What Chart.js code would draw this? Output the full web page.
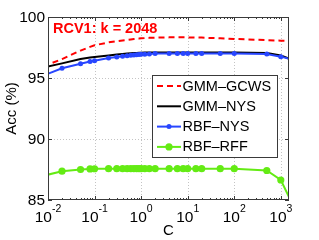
<!DOCTYPE html>
<html>
<head>
<meta charset="utf-8">
<script src="https://cdn.jsdelivr.net/npm/chart.js@4"></script>
<style>
  html, body { margin: 0; padding: 0; background: #fff; }
  #wrap { width: 319px; height: 240px; }
</style>
</head>
<body>
<div id="wrap"><canvas id="accChart" width="319" height="240"></canvas></div>
<script>
// C values (first and last lie just outside the axis range, clipped like the original)
const cValues = [0.005, 0.02, 0.05, 0.08, 0.1, 0.2, 0.3, 0.4, 0.5, 0.6, 0.7, 0.8, 0.9, 1, 1.2, 1.5, 2, 4, 6, 8, 10, 15, 20, 50, 100, 500, 1000, 2000];

const gmmGcws = [95.65, 96.55, 97.25, 97.55, 97.68, 97.92, 98.02, 98.08, 98.12, 98.16, 98.19, 98.21, 98.23, 98.25, 98.27, 98.29, 98.31, 98.33, 98.33, 98.33, 98.33, 98.32, 98.31, 98.25, 98.2, 98.1, 98.06, 98.04];
const gmmNys = [95.7, 96.2, 96.55, 96.68, 96.73, 96.85, 96.92, 96.97, 97.0, 97.02, 97.04, 97.05, 97.06, 97.07, 97.08, 97.09, 97.1, 97.1, 97.1, 97.1, 97.1, 97.1, 97.1, 97.1, 97.1, 97.05, 96.85, 96.4];
const rbfNys = [94.9, 95.8, 96.17, 96.36, 96.42, 96.64, 96.72, 96.78, 96.83, 96.86, 96.88, 96.9, 96.92, 96.94, 96.95, 96.97, 97.0, 97.0, 97.0, 97.0, 97.0, 97.0, 97.0, 97.0, 97.0, 96.97, 96.75, 96.46];
const rbfRff = [86.8, 87.36, 87.5, 87.55, 87.56, 87.57, 87.57, 87.57, 87.57, 87.57, 87.57, 87.57, 87.57, 87.57, 87.57, 87.57, 87.57, 87.57, 87.57, 87.57, 87.57, 87.57, 87.57, 87.57, 87.57, 87.42, 86.64, 84.26];

const seriesNames = ['GMM\u2013GCWS', 'GMM\u2013NYS', 'RBF\u2013NYS', 'RBF\u2013RFF'];
const xTickExps = [-2, -1, 0, 1, 2, 3];
const yTicks = [85, 90, 95, 100];
const titleText = 'RCV1: k = 2048';
const xTitle = 'C';
const yTitle = 'Acc (%)';

const FONT = '"Liberation Sans", Arial, Helvetica, sans-serif';
const RED = '#ff0000';
const BLUE = 'rgb(40,70,255)';
const GREEN = 'rgb(100,235,20)';

function toPoints(vals) {
    return cValues.map((c, i) => ({ x: c, y: vals[i] }));
}

// grid, box, ticks, labels, title and legend drawn the MATLAB way
const framePlugin = {
    id: 'frame',
    beforeDatasetsDraw(chart) {
        const { ctx, chartArea: a, scales: { x, y } } = chart;
        ctx.save();
        ctx.strokeStyle = '#c4c4c4';
        ctx.lineWidth = 1;
        ctx.setLineDash([1, 2]);
        xTickExps.forEach(e => {
            const px = Math.round(x.getPixelForValue(Math.pow(10, e))) + 0.5;
            if (px <= a.left + 1 || px >= a.right - 1) return;
            ctx.beginPath();
            ctx.moveTo(px, a.top);
            ctx.lineTo(px, a.bottom);
            ctx.stroke();
        });
        yTicks.forEach(v => {
            const py = Math.round(y.getPixelForValue(v)) + 0.5;
            if (py <= a.top + 1 || py >= a.bottom - 1) return;
            ctx.beginPath();
            ctx.moveTo(a.left, py);
            ctx.lineTo(a.right, py);
            ctx.stroke();
        });
        ctx.restore();
    },
    afterDatasetsDraw(chart) {
        const { ctx, chartArea: a, scales: { x, y } } = chart;
        ctx.save();
        ctx.setLineDash([]);
        ctx.strokeStyle = '#3a3a3a';
        ctx.lineWidth = 1;

        // box
        ctx.strokeRect(a.left + 0.5, a.top + 0.5, a.right - a.left - 1, a.bottom - a.top - 1);

        // x ticks: major and minor, bottom and top, inward
        ctx.beginPath();
        for (let e = -2; e <= 3; e++) {
            for (let m = 1; m <= 9; m++) {
                const v = m * Math.pow(10, e);
                const px = Math.round(x.getPixelForValue(v)) + 0.5;
                if (px < a.left || px > a.right) continue;
                const len = m === 1 ? 4 : 2;
                ctx.moveTo(px, a.bottom);
                ctx.lineTo(px, a.bottom - len);
                ctx.moveTo(px, a.top);
                ctx.lineTo(px, a.top + len);
            }
        }
        // y ticks, left and right
        yTicks.forEach(v => {
            const py = Math.round(y.getPixelForValue(v)) + 0.5;
            ctx.moveTo(a.left, py);
            ctx.lineTo(a.left + 4, py);
            ctx.moveTo(a.right, py);
            ctx.lineTo(a.right - 4, py);
        });
        ctx.stroke();

        ctx.fillStyle = '#000';
        // y tick labels
        ctx.font = '15.5px ' + FONT;
        ctx.textAlign = 'right';
        ctx.textBaseline = 'middle';
        yTicks.forEach(v => {
            ctx.fillText(String(v), a.left - 3, y.getPixelForValue(v) + 1);
        });

        // x tick labels 10^e
        ctx.textAlign = 'left';
        ctx.textBaseline = 'alphabetic';
        xTickExps.forEach(e => {
            const px = x.getPixelForValue(Math.pow(10, e));
            ctx.font = '15.5px ' + FONT;
            const wBase = ctx.measureText('10').width;
            const expText = e < 0 ? '-' + (-e) : String(e);
            ctx.font = '10.5px ' + FONT;
            const wExp = ctx.measureText(expText).width;
            const start = px - (wBase + wExp) / 2;
            ctx.font = '15.5px ' + FONT;
            ctx.fillText('10', start, a.bottom + 22);
            ctx.font = '10.5px ' + FONT;
            ctx.fillText(expText, start + wBase, a.bottom + 12);
        });

        // axis titles
        ctx.font = '15px ' + FONT;
        ctx.textAlign = 'center';
        ctx.textBaseline = 'middle';
        ctx.fillText(xTitle, (a.left + a.right) / 2, 231);
        ctx.save();
        ctx.translate(12, (a.top + a.bottom) / 2);
        ctx.rotate(-Math.PI / 2);
        ctx.fillText(yTitle, 0, 0);
        ctx.restore();

        // in-plot title
        ctx.font = 'bold 14.5px ' + FONT;
        ctx.fillStyle = RED;
        ctx.textAlign = 'left';
        ctx.textBaseline = 'alphabetic';
        ctx.fillText(titleText, 53, 33);

        // legend box
        const lx = 152.5, ly = 75.5, lw = 125, lh = 82;
        ctx.fillStyle = '#fff';
        ctx.fillRect(lx, ly, lw, lh);
        ctx.strokeStyle = '#3a3a3a';
        ctx.strokeRect(lx, ly, lw, lh);
        ctx.font = '14.5px ' + FONT;
        ctx.textBaseline = 'middle';
        chart.data.datasets.forEach((ds, i) => {
            const cy = 86 + i * 20.3;
            ctx.strokeStyle = ds.borderColor;
            ctx.lineWidth = ds.borderWidth;
            ctx.setLineDash(ds.borderDash || []);
            ctx.beginPath();
            ctx.moveTo(157, cy);
            ctx.lineTo(181, cy);
            ctx.stroke();
            ctx.setLineDash([]);
            if (ds.pointRadius > 0) {
                ctx.fillStyle = ds.pointBackgroundColor;
                ctx.beginPath();
                ctx.arc(169, cy, ds.pointRadius, 0, Math.PI * 2);
                ctx.fill();
            }
            ctx.fillStyle = '#000';
            ctx.fillText(ds.label, 182.5, cy + 0.5);
        });
        ctx.restore();
    }
};

new Chart(document.getElementById('accChart').getContext('2d'), {
    type: 'line',
    data: {
        datasets: [
            { label: seriesNames[0], data: toPoints(gmmGcws), borderColor: RED, borderWidth: 2, borderDash: [6, 4], pointRadius: 0, order: 4 },
            { label: seriesNames[1], data: toPoints(gmmNys), borderColor: '#000', borderWidth: 2, pointRadius: 0, order: 3 },
            { label: seriesNames[2], data: toPoints(rbfNys), borderColor: BLUE, borderWidth: 2, pointRadius: 2.5, pointBackgroundColor: BLUE, pointBorderColor: BLUE, pointBorderWidth: 0, order: 2 },
            { label: seriesNames[3], data: toPoints(rbfRff), borderColor: GREEN, borderWidth: 2, pointRadius: 3.6, pointBackgroundColor: GREEN, pointBorderColor: GREEN, pointBorderWidth: 0, order: 1 }
        ]
    },
    options: {
        responsive: false,
        animation: false,
        layout: { padding: { left: 48, top: 17, right: 30, bottom: 40 } },
        elements: { line: { tension: 0, fill: false } },
        datasets: { line: { clip: 0 } },
        scales: {
            x: { type: 'logarithmic', min: 0.01, max: 1500, display: false },
            y: { type: 'linear', min: 85, max: 100, display: false }
        },
        plugins: {
            legend: { display: false },
            tooltip: { enabled: false }
        }
    },
    plugins: [framePlugin]
});
</script>
</body>
</html>
